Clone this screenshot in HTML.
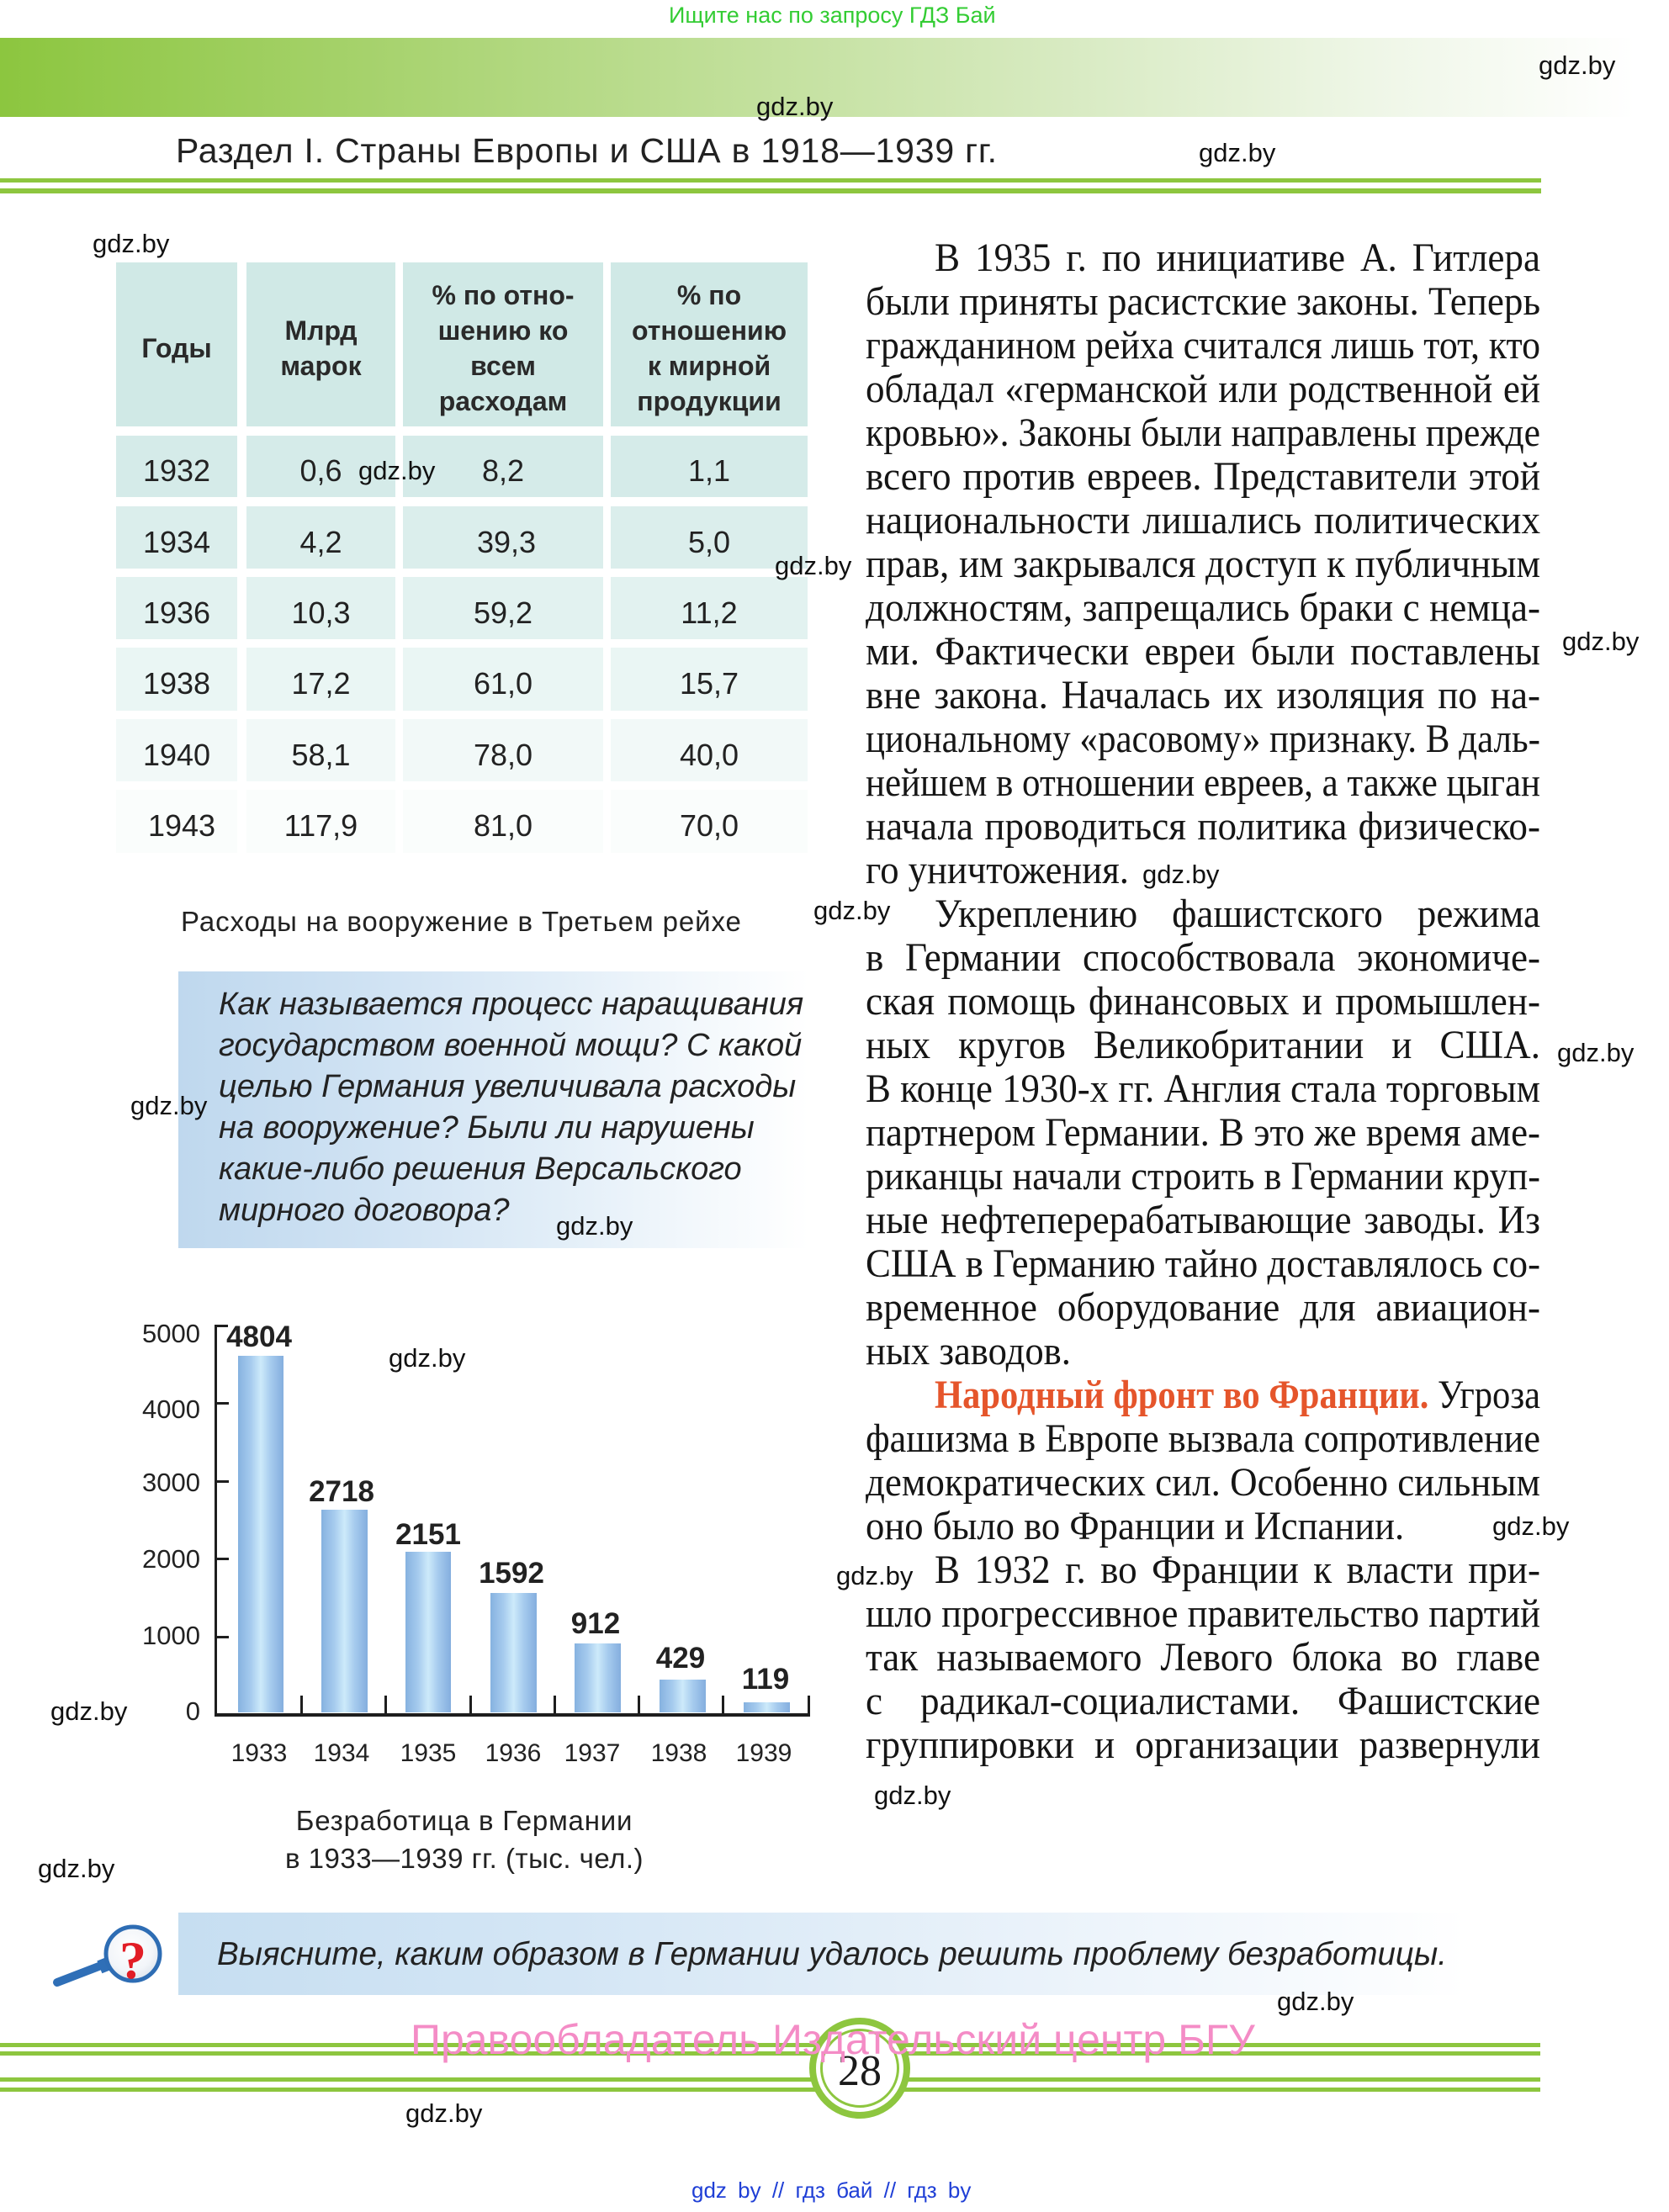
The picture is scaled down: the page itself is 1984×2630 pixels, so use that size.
<!DOCTYPE html>
<html lang="ru">
<head>
<meta charset="utf-8">
<style>
html,body{margin:0;padding:0}
body{width:1984px;height:2630px;position:relative;background:#fff;overflow:hidden;font-family:"Liberation Sans",Arial,sans-serif;color:#1e1e1e}
.a{position:absolute;line-height:1;white-space:nowrap}
.w{position:absolute;line-height:1;font-size:31px;white-space:nowrap;color:#111;font-family:"Liberation Sans",Arial,sans-serif}
.gl{position:absolute;background:#8dc63f}
.hc{position:absolute;display:flex;align-items:center;justify-content:center;text-align:center;font-weight:bold;font-size:32px;line-height:42px;color:#2a2a2a;padding-top:8px;box-sizing:border-box}
.c{position:absolute}
.n{position:absolute;font-size:36px;line-height:1;text-align:center;color:#222;white-space:nowrap}
.col{position:absolute;left:1029px;top:281px;font-family:"Liberation Serif","Times New Roman",serif;font-size:48px;line-height:52px;color:#151515}
.col div{width:950px;height:52px;transform:scaleX(0.844);transform-origin:0 0;text-align:justify;text-align-last:justify;box-sizing:border-box}
.col div.l{text-align-last:left}
.col div.i{padding-left:97px}
.col b{color:#e5552b}
.q{position:absolute;left:260px;top:1170px;font-style:italic;font-size:38px;line-height:49px;color:#222;white-space:nowrap}
.bar{position:absolute;background:linear-gradient(to right,#86b2e0 0%,#a6cbee 28%,#cdeafa 50%,#a6cbee 72%,#84aede 100%)}
.k{position:absolute;background:#1e1e1e}
.yl{position:absolute;left:128px;width:110px;text-align:right;font-size:31px;line-height:1;color:#222}
.vl{position:absolute;width:140px;text-align:center;font-size:35px;font-weight:bold;line-height:1;color:#222}
.xl{position:absolute;width:120px;text-align:center;font-size:30px;line-height:1;color:#222;top:2070px}
</style>
</head>
<body>

<!-- top header -->
<div class="a" style="left:795px;top:5px;font-size:27px;color:#33cc33;">Ищите нас по запросу ГДЗ Бай</div>
<div style="position:absolute;left:0;top:45px;width:1984px;height:94px;background:linear-gradient(to right,#8cc63f 0%,#a6d26c 22%,#c2e09c 45%,#d9ebc4 65%,#eef6e6 82%,#ffffff 98%);"></div>
<div class="w" style="left:1829px;top:62px;">gdz.by</div>
<div class="w" style="left:899px;top:111px;">gdz.by</div>
<div class="a" style="left:209px;top:159px;font-size:41px;letter-spacing:0.8px;color:#222;">Раздел I. Страны Европы и США в 1918—1939 гг.</div>
<div class="w" style="left:1425px;top:166px;">gdz.by</div>
<div class="gl" style="left:0;top:212px;width:1832px;height:5px;"></div>
<div class="gl" style="left:0;top:224px;width:1832px;height:6px;"></div>

<!-- table -->
<div class="hc" style="left:138px;top:312px;width:144px;height:195px;background:#d0e9e6;">Годы</div>
<div class="hc" style="left:293px;top:312px;width:177px;height:195px;background:#d0e9e6;">Млрд<br>марок</div>
<div class="hc" style="left:479px;top:312px;width:238px;height:195px;background:#d0e9e6;">% по отно-<br>шению ко<br>всем<br>расходам</div>
<div class="hc" style="left:726px;top:312px;width:234px;height:195px;background:#d0e9e6;">% по<br>отношению<br>к мирной<br>продукции</div>

<div class="c" style="left:138px;top:518px;width:144px;height:73px;background:#d5ebe9"></div>
<div class="c" style="left:293px;top:518px;width:177px;height:73px;background:#d5ebe9"></div>
<div class="c" style="left:479px;top:518px;width:238px;height:73px;background:#d5ebe9"></div>
<div class="c" style="left:726px;top:518px;width:234px;height:73px;background:#d5ebe9"></div>

<div class="c" style="left:138px;top:602px;width:144px;height:74px;background:#dbeeec"></div>
<div class="c" style="left:293px;top:602px;width:177px;height:74px;background:#dbeeec"></div>
<div class="c" style="left:479px;top:602px;width:238px;height:74px;background:#dbeeec"></div>
<div class="c" style="left:726px;top:602px;width:234px;height:74px;background:#dbeeec"></div>

<div class="c" style="left:138px;top:686px;width:144px;height:74px;background:#e2f2f0"></div>
<div class="c" style="left:293px;top:686px;width:177px;height:74px;background:#e2f2f0"></div>
<div class="c" style="left:479px;top:686px;width:238px;height:74px;background:#e2f2f0"></div>
<div class="c" style="left:726px;top:686px;width:234px;height:74px;background:#e2f2f0"></div>

<div class="c" style="left:138px;top:770px;width:144px;height:75px;background:#eaf6f4"></div>
<div class="c" style="left:293px;top:770px;width:177px;height:75px;background:#eaf6f4"></div>
<div class="c" style="left:479px;top:770px;width:238px;height:75px;background:#eaf6f4"></div>
<div class="c" style="left:726px;top:770px;width:234px;height:75px;background:#eaf6f4"></div>

<div class="c" style="left:138px;top:855px;width:144px;height:74px;background:#f2f9f8"></div>
<div class="c" style="left:293px;top:855px;width:177px;height:74px;background:#f2f9f8"></div>
<div class="c" style="left:479px;top:855px;width:238px;height:74px;background:#f2f9f8"></div>
<div class="c" style="left:726px;top:855px;width:234px;height:74px;background:#f2f9f8"></div>

<div class="c" style="left:138px;top:939px;width:144px;height:75px;background:#fafdfc"></div>
<div class="c" style="left:293px;top:939px;width:177px;height:75px;background:#fafdfc"></div>
<div class="c" style="left:479px;top:939px;width:238px;height:75px;background:#fafdfc"></div>
<div class="c" style="left:726px;top:939px;width:234px;height:75px;background:#fafdfc"></div>

<!-- table numbers -->
<div class="n" style="left:138px;width:144px;top:542px">1932</div>
<div class="n" style="left:293px;width:177px;top:542px">0,6</div>
<div class="n" style="left:479px;width:238px;top:542px">8,2</div>
<div class="n" style="left:726px;width:234px;top:542px">1,1</div>

<div class="n" style="left:138px;width:144px;top:627px">1934</div>
<div class="n" style="left:293px;width:177px;top:627px">4,2</div>
<div class="n" style="left:479px;width:238px;top:627px;padding-left:8px;box-sizing:border-box">39,3</div>
<div class="n" style="left:726px;width:234px;top:627px">5,0</div>

<div class="n" style="left:138px;width:144px;top:711px">1936</div>
<div class="n" style="left:293px;width:177px;top:711px">10,3</div>
<div class="n" style="left:479px;width:238px;top:711px">59,2</div>
<div class="n" style="left:726px;width:234px;top:711px">11,2</div>

<div class="n" style="left:138px;width:144px;top:795px">1938</div>
<div class="n" style="left:293px;width:177px;top:795px">17,2</div>
<div class="n" style="left:479px;width:238px;top:795px">61,0</div>
<div class="n" style="left:726px;width:234px;top:795px">15,7</div>

<div class="n" style="left:138px;width:144px;top:880px">1940</div>
<div class="n" style="left:293px;width:177px;top:880px">58,1</div>
<div class="n" style="left:479px;width:238px;top:880px">78,0</div>
<div class="n" style="left:726px;width:234px;top:880px">40,0</div>

<div class="n" style="left:144px;width:144px;top:964px">1943</div>
<div class="n" style="left:293px;width:177px;top:964px">117,9</div>
<div class="n" style="left:479px;width:238px;top:964px">81,0</div>
<div class="n" style="left:726px;width:234px;top:964px">70,0</div>

<div class="a" style="left:215px;top:1079px;font-size:33px;letter-spacing:0.9px;color:#222;">Расходы на вооружение в Третьем рейхе</div>

<!-- question box -->
<div style="position:absolute;left:212px;top:1155px;width:750px;height:329px;background:linear-gradient(to right,#bfd8ee 0%,#cfe2f3 30%,#e2eef8 60%,#f3f8fc 82%,#ffffff 100%);"></div>
<div class="q">Как называется процесс наращивания<br>государством военной мощи? С какой<br>целью Германия увеличивала расходы<br>на вооружение? Были ли нарушены<br>какие-либо решения Версальского<br>мирного договора?</div>

<!-- right text column -->
<div class="col">
<div class="i">В 1935 г. по инициативе А. Гитлера</div>
<div>были приняты расистские законы. Теперь</div>
<div>гражданином рейха считался лишь тот, кто</div>
<div>обладал «германской или родственной ей</div>
<div>кровью». Законы были направлены прежде</div>
<div>всего против евреев. Представители этой</div>
<div>национальности лишались политических</div>
<div>прав, им закрывался доступ к публичным</div>
<div>должностям, запрещались браки с немца-</div>
<div>ми. Фактически евреи были поставлены</div>
<div>вне закона. Началась их изоляция по на-</div>
<div>циональному «расовому» признаку. В даль-</div>
<div>нейшем в отношении евреев, а также цыган</div>
<div>начала проводиться политика физическо-</div>
<div class="l">го уничтожения.</div>
<div class="i">Укреплению фашистского режима</div>
<div>в Германии способствовала экономиче-</div>
<div>ская помощь финансовых и промышлен-</div>
<div>ных кругов Великобритании и США.</div>
<div>В конце 1930-х гг. Англия стала торговым</div>
<div>партнером Германии. В это же время аме-</div>
<div>риканцы начали строить в Германии круп-</div>
<div>ные нефтеперерабатывающие заводы. Из</div>
<div>США в Германию тайно доставлялось со-</div>
<div>временное оборудование для авиацион-</div>
<div class="l">ных заводов.</div>
<div class="i"><b>Народный фронт во Франции.</b> Угроза</div>
<div>фашизма в Европе вызвала сопротивление</div>
<div>демократических сил. Особенно сильным</div>
<div class="l">оно было во Франции и Испании.</div>
<div class="i">В 1932 г. во Франции к власти при-</div>
<div>шло прогрессивное правительство партий</div>
<div>так называемого Левого блока во главе</div>
<div>с радикал-социалистами. Фашистские</div>
<div>группировки и организации развернули</div>
</div>

<!-- bar chart -->
<div class="bar" style="left:283px;top:1612px;width:54px;height:424px;"></div>
<div class="bar" style="left:382px;top:1795px;width:55px;height:241px;"></div>
<div class="bar" style="left:482px;top:1845px;width:54px;height:191px;"></div>
<div class="bar" style="left:583px;top:1894px;width:55px;height:142px;"></div>
<div class="bar" style="left:683px;top:1954px;width:55px;height:82px;"></div>
<div class="bar" style="left:784px;top:1997px;width:55px;height:39px;"></div>
<div class="bar" style="left:884px;top:2024px;width:55px;height:12px;"></div>

<div class="k" style="left:255px;top:1575px;width:3px;height:466px;"></div>
<div class="k" style="left:255px;top:1575px;width:16px;height:3px;"></div>
<div class="k" style="left:255px;top:1667px;width:17px;height:3px;"></div>
<div class="k" style="left:255px;top:1760px;width:17px;height:3px;"></div>
<div class="k" style="left:255px;top:1852px;width:17px;height:3px;"></div>
<div class="k" style="left:255px;top:1945px;width:17px;height:3px;"></div>
<div class="k" style="left:255px;top:2037px;width:708px;height:4px;"></div>
<div class="k" style="left:357px;top:2016px;width:3px;height:23px;"></div>
<div class="k" style="left:457px;top:2016px;width:3px;height:23px;"></div>
<div class="k" style="left:558px;top:2016px;width:3px;height:23px;"></div>
<div class="k" style="left:658px;top:2016px;width:3px;height:23px;"></div>
<div class="k" style="left:758px;top:2016px;width:3px;height:23px;"></div>
<div class="k" style="left:858px;top:2016px;width:3px;height:23px;"></div>
<div class="k" style="left:960px;top:2016px;width:3px;height:25px;"></div>

<div class="yl" style="top:1570px">5000</div>
<div class="yl" style="top:1660px">4000</div>
<div class="yl" style="top:1747px">3000</div>
<div class="yl" style="top:1838px">2000</div>
<div class="yl" style="top:1929px">1000</div>
<div class="yl" style="top:2019px">0</div>

<div class="vl" style="left:238px;top:1572px">4804</div>
<div class="vl" style="left:336px;top:1756px">2718</div>
<div class="vl" style="left:439px;top:1807px">2151</div>
<div class="vl" style="left:538px;top:1853px">1592</div>
<div class="vl" style="left:638px;top:1913px">912</div>
<div class="vl" style="left:739px;top:1954px">429</div>
<div class="vl" style="left:840px;top:1979px">119</div>

<div class="xl" style="left:248px">1933</div>
<div class="xl" style="left:346px">1934</div>
<div class="xl" style="left:449px">1935</div>
<div class="xl" style="left:550px">1936</div>
<div class="xl" style="left:644px">1937</div>
<div class="xl" style="left:747px">1938</div>
<div class="xl" style="left:848px">1939</div>

<div class="a" style="left:252px;width:600px;text-align:center;top:2148px;font-size:33px;letter-spacing:0.8px;color:#222;">Безработица в Германии</div>
<div class="a" style="left:252px;width:600px;text-align:center;top:2193px;font-size:33px;letter-spacing:0.5px;color:#222;">в 1933—1939 гг. (тыс. чел.)</div>

<!-- bottom question -->
<div style="position:absolute;left:212px;top:2274px;width:1531px;height:98px;background:linear-gradient(to right,#c6def1 0%,#d4e6f5 30%,#e6f0f9 60%,#f5f9fd 85%,#ffffff 100%);"></div>
<div class="a" style="left:258px;top:2305px;font-size:38.5px;font-style:italic;color:#222;">Выясните, каким образом в Германии удалось решить проблему безработицы.</div>
<svg style="position:absolute;left:50px;top:2280px" width="160" height="100" viewBox="0 0 160 100">
<defs><radialGradient id="lg" cx="0.45" cy="0.4" r="0.6"><stop offset="0" stop-color="#ffffff"/><stop offset="0.7" stop-color="#f2f5f9"/><stop offset="1" stop-color="#dfe6ee"/></radialGradient></defs>
<line x1="18" y1="77" x2="70" y2="57" stroke="#2f6fb7" stroke-width="10" stroke-linecap="round"/>
<rect x="68" y="49" width="10" height="16" fill="#2f6fb7" transform="rotate(-22 73 57)"/>
<circle cx="108" cy="43" r="32" fill="url(#lg)" stroke="#2e6db4" stroke-width="5"/>
<text x="108" y="72" text-anchor="middle" font-family="Liberation Serif, serif" font-weight="bold" font-size="64" fill="#e21d26">?</text>
</svg>

<!-- footer lines -->
<div class="gl" style="left:0;top:2429px;width:1831px;height:5px;"></div>
<div class="gl" style="left:0;top:2439px;width:1831px;height:5px;"></div>
<div class="gl" style="left:0;top:2470px;width:1831px;height:5px;"></div>
<div class="gl" style="left:0;top:2482px;width:1831px;height:5px;"></div>
<div style="position:absolute;left:962px;top:2399px;width:120px;height:120px;border-radius:50%;background:#fff;border:8px solid #8dc63f;box-sizing:border-box;"></div>
<div style="position:absolute;left:975px;top:2412px;width:94px;height:94px;border-radius:50%;border:3px solid #8dc63f;box-sizing:border-box;"></div>
<div class="a" style="left:972px;width:100px;text-align:center;top:2437px;font-size:52px;font-family:'Liberation Serif',serif;color:#1a1a1a;">28</div>
<div class="a" style="left:488px;top:2400px;font-size:50px;color:#f48cc6;">Правообладатель Издательский центр БГУ</div>
<div class="a" style="left:822px;top:2591px;font-size:26px;word-spacing:6px;color:#1f3fd6;">gdz by // гдз бай // гдз by</div>

<!-- watermarks -->
<div class="w" style="left:110px;top:274px">gdz.by</div>
<div class="w" style="left:426px;top:544px">gdz.by</div>
<div class="w" style="left:921px;top:657px">gdz.by</div>
<div class="w" style="left:1857px;top:747px">gdz.by</div>
<div class="w" style="left:1358px;top:1024px">gdz.by</div>
<div class="w" style="left:967px;top:1067px">gdz.by</div>
<div class="w" style="left:1851px;top:1236px">gdz.by</div>
<div class="w" style="left:155px;top:1299px">gdz.by</div>
<div class="w" style="left:661px;top:1442px">gdz.by</div>
<div class="w" style="left:462px;top:1599px">gdz.by</div>
<div class="w" style="left:60px;top:2019px">gdz.by</div>
<div class="w" style="left:45px;top:2206px">gdz.by</div>
<div class="w" style="left:1774px;top:1799px">gdz.by</div>
<div class="w" style="left:994px;top:1858px">gdz.by</div>
<div class="w" style="left:1039px;top:2119px">gdz.by</div>
<div class="w" style="left:1518px;top:2364px">gdz.by</div>
<div class="w" style="left:482px;top:2497px">gdz.by</div>

<script>
(function(){
  var T=802, MAXS=0.94, IND=82;
  var ds=document.querySelectorAll('.col div');
  var i,d;
  for(i=0;i<ds.length;i++){
    d=ds[i];
    d.style.transform='none';
    d.style.width='max-content';
    d.style.whiteSpace='nowrap';
    d.style.textAlign='left';
    d.style.textAlignLast='left';
    d.style.wordSpacing='0px';
    d.style.paddingLeft='0px';
  }
  for(i=0;i<ds.length;i++){
    d=ds[i];
    var w0=d.getBoundingClientRect().width;
    if(!w0) continue;
    if(d.classList.contains('l')){
      d.style.transform='scaleX(0.93)';
      continue;
    }
    var ind=d.classList.contains('i')?IND:0;
    var s=Math.min((T-ind)/w0,MAXS);
    var n=(d.textContent.match(/ /g)||[]).length;
    var ws=n?((T-ind)/s-w0)/n:0;
    d.style.paddingLeft=(ind/s)+'px';
    d.style.wordSpacing=ws+'px';
    d.style.transform='scaleX('+s+')';
  }
})();
</script>
</body>
</html>
